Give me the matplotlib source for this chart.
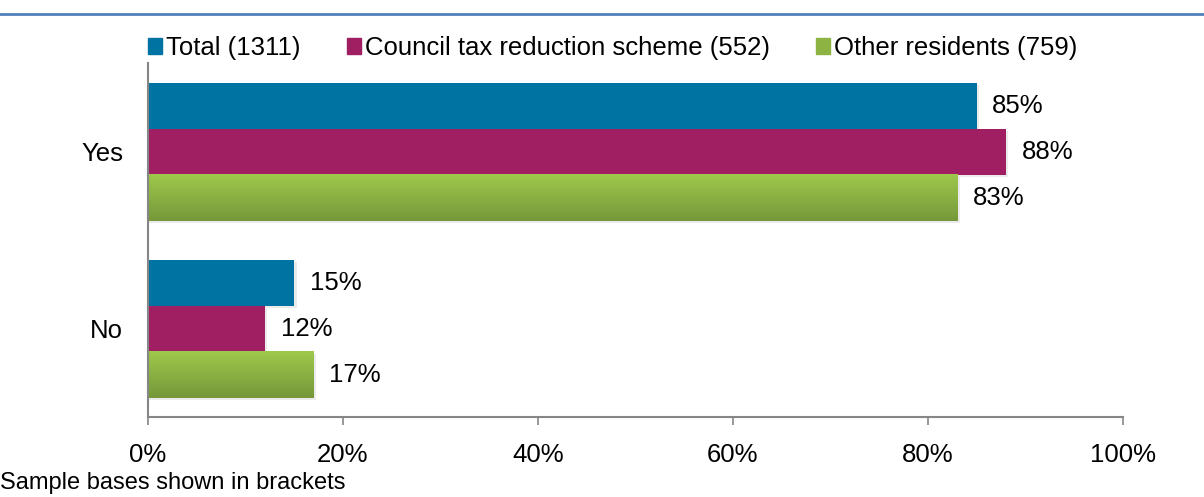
import numpy as np
import matplotlib.pyplot as plt
from matplotlib.lines import Line2D
from matplotlib.colors import LinearSegmentedColormap

plt.rcParams['font.family'] = ['Liberation Sans', 'DejaVu Sans']

categories = ['Yes', 'No']
series = ['Total (1311)', 'Council tax reduction scheme (552)', 'Other residents (759)']
total = [85, 15]
council = [88, 12]
other = [83, 17]
xticks = [0, 20, 40, 60, 80, 100]

blue = '#0073a2'
plum = '#a01e62'
green_top = '#9ec84b'
green_bot = '#76983a'
fs = 18.5

fig = plt.figure(figsize=(12.04, 4.97), dpi=100)
ax = fig.add_axes([0.1229, 0.161, 0.8098, 0.712])

h = 0.26
green_cmap = LinearSegmentedColormap.from_list('g', [green_top, green_bot])
values = [total, council, other]
colors = [blue, plum, green_top]

for i, cat in enumerate(categories):
    centre = i + 0.5
    for j, vals in enumerate(values):
        y = centre + (j - 1) * h
        v = vals[i]
        # soft shadow
        ax.barh(y + 0.015, v + 0.25, height=h, left=0, color='#000000', alpha=0.08,
                zorder=1, linewidth=0)
        if j == 2:
            ax.barh(y, v, height=h, color='none', linewidth=0, zorder=2)
            grad = np.linspace(0, 1, 50).reshape(-1, 1)
            ax.imshow(grad, cmap=green_cmap, aspect='auto', zorder=2,
                      extent=[0, v, y + h / 2, y - h / 2])
        else:
            ax.barh(y, v, height=h, color=colors[j], linewidth=0, zorder=2)
        ax.text(v + 1.6, y, f'{v}%', va='center', ha='left', fontsize=fs)

ax.set_xlim(0, 100)
ax.set_ylim(2, 0)
ax.set_xticks(xticks)
ax.set_xticklabels([f'{t}%' for t in xticks], fontsize=fs)
ax.set_yticks([0.5, 1.5])
ax.set_yticklabels(categories, fontsize=fs)
ax.tick_params(axis='y', length=0, pad=18)
ax.tick_params(axis='x', length=6, color='#868686', width=1.2, pad=13)
for s in ['top', 'right']:
    ax.spines[s].set_visible(False)
for s in ['left', 'bottom']:
    ax.spines[s].set_color('#868686')
    ax.spines[s].set_linewidth(1.5)

handles = [plt.Rectangle((0, 0), 1, 1, color=c) for c in [blue, plum, '#8db443']]
fig.legend(handles, series, loc='center', bbox_to_anchor=(0.509, 1 - 48 / 497),
           ncol=3, frameon=False, fontsize=fs, handlelength=0.55, handleheight=0.6,
           handletextpad=0.15, columnspacing=1.8)

fig.add_artist(Line2D([0, 1], [1 - 14 / 497, 1 - 14 / 497], color='#4f81bd', lw=2))
fig.text(0.0, 1 - 483 / 497, 'Sample bases shown in brackets', fontsize=17,
         ha='left', va='center')

fig.savefig('out.png', dpi=100)
